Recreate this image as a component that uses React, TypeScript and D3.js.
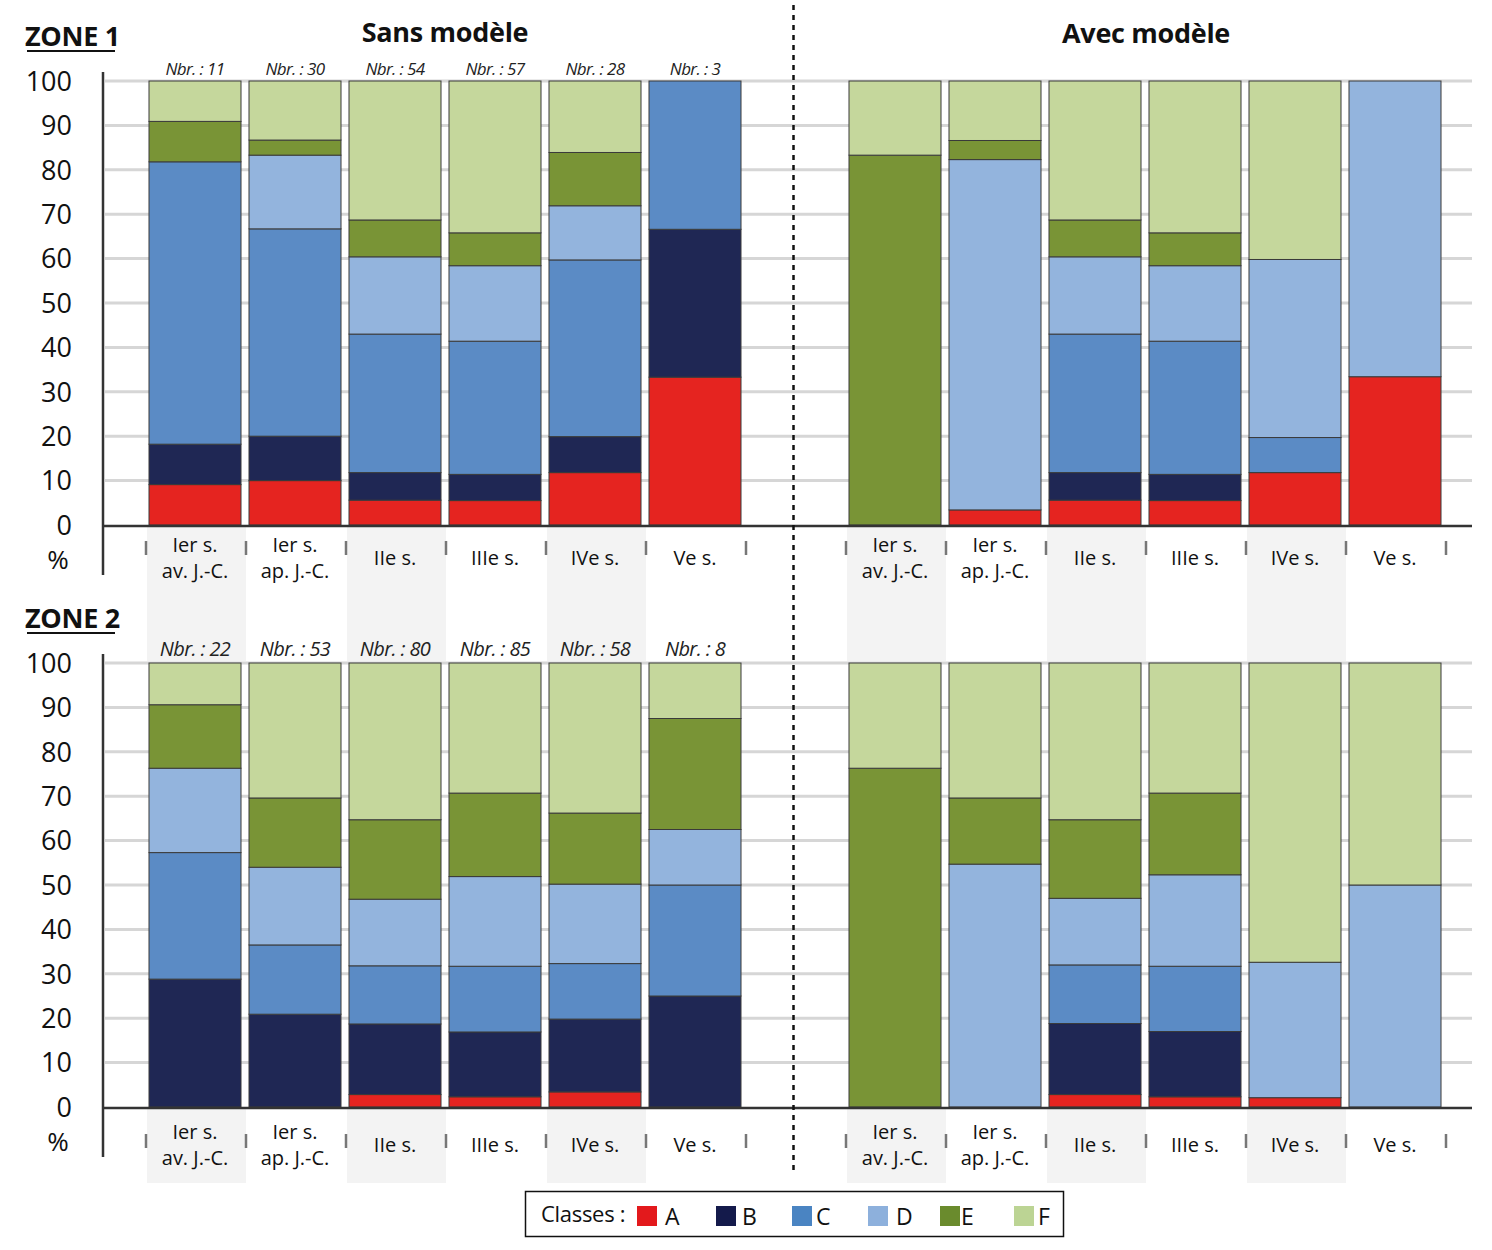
import React from "react";
import * as d3 from "d3";

const classes = ["A", "B", "C", "D", "E", "F"];
const classColors = ["#e52420", "#1f2754", "#5b8bc5", "#93b4dd", "#799436", "#c5d79c"];
const legendColors = ["#e3191c", "#141a4b", "#4a84c2", "#8db0dc", "#6a8b2d", "#bcd494"];

const periodLabels = [["Ier s.", "av. J.-C."], ["Ier s.", "ap. J.-C."], ["IIe s."], ["IIIe s."], ["IVe s."], ["Ve s."]];
const periods = ["Ier s. av. J.-C.", "Ier s. ap. J.-C.", "IIe s.", "IIIe s.", "IVe s.", "Ve s."];
const yTicks = [0, 10, 20, 30, 40, 50, 60, 70, 80, 90, 100];

const zone1Counts = [11, 30, 54, 57, 28, 3];
const zone2Counts = [22, 53, 80, 85, 58, 8];

// percentages per bar: [A, B, C, D, E, F]
const zone1Sans = [
  [9.1, 9.1, 63.6, 0, 9.1, 9.1],
  [10, 10, 46.7, 16.6, 3.4, 13.3],
  [5.6, 6.2, 31.2, 17.4, 8.3, 31.3],
  [5.5, 5.9, 30.0, 17.0, 7.4, 34.2],
  [11.8, 8.1, 39.8, 12.2, 12.0, 16.1],
  [33.3, 33.3, 33.4, 0, 0, 0],
];
const zone1Avec = [
  [0, 0, 0, 0, 83.3, 16.7],
  [3.4, 0, 0, 78.9, 4.3, 13.4],
  [5.6, 6.2, 31.2, 17.4, 8.3, 31.3],
  [5.5, 5.9, 30.0, 17.0, 7.4, 34.2],
  [11.8, 0, 7.9, 40.1, 0, 40.2],
  [33.4, 0, 0, 66.6, 0, 0],
];
const zone2Sans = [
  [0, 28.8, 28.5, 19.0, 14.3, 9.4],
  [0, 20.9, 15.6, 17.5, 15.6, 30.4],
  [2.8, 15.9, 13.1, 15.0, 17.9, 35.3],
  [2.3, 14.6, 14.8, 20.2, 18.8, 29.3],
  [3.4, 16.4, 12.5, 17.9, 16.0, 33.8],
  [0, 25, 25, 12.5, 25, 12.5],
];
const zone2Avec = [
  [0, 0, 0, 0, 76.3, 23.7],
  [0, 0, 0, 54.7, 14.9, 30.4],
  [2.8, 16.0, 13.2, 15.0, 17.7, 35.3],
  [2.3, 14.7, 14.7, 20.6, 18.4, 29.3],
  [2.1, 0, 0, 30.5, 0, 67.4],
  [0, 0, 0, 50, 0, 50],
];

const FONT = "'Open Sans', sans-serif";

function toRows(data: number[][]) {
  return data.map((r, i) => {
    const o: any = { period: periods[i] };
    classes.forEach((c, j) => (o[c] = r[j]));
    return o;
  });
}

const stackGen = d3.stack<any>().keys(classes);

function Panel({ data, x0, y }: { data: number[][]; x0: number; y: d3.ScaleLinear<number, number> }) {
  const x = d3.scaleBand<string>().domain(periods).range([x0, x0 + 600]).paddingInner(0.08).paddingOuter(0.04);
  const series = stackGen(toRows(data));
  return (
    <g>
      {series.map((s, si) =>
        s.map((d, i) => {
          const h = y(d[0]) - y(d[1]);
          if (h <= 0.01) return null;
          return (
            <rect
              key={`${si}-${i}`}
              x={x(periods[i])}
              y={y(d[1])}
              width={x.bandwidth()}
              height={h}
              fill={classColors[si]}
              stroke="#3a3a3a"
              strokeWidth={1}
            />
          );
        })
      )}
    </g>
  );
}

function Zone({ top, title, counts, sans, avec, nbrSize, nbrY, labelY, tickY }: any) {
  const y = d3.scaleLinear().domain([0, 100]).range([top + 444, top]);
  const xl = d3.scaleBand<string>().domain(periods).range([145, 745]).paddingInner(0.08).paddingOuter(0.04);
  const xr = d3.scaleBand<string>().domain(periods).range([845, 1445]).paddingInner(0.08).paddingOuter(0.04);
  const base = y(0);
  return (
    <g>
      {yTicks.filter((t) => t > 0).map((t) => (
        <line key={t} x1={105} x2={1472} y1={y(t)} y2={y(t)} stroke="#d6d6d6" strokeWidth={3} />
      ))}
      <Panel data={sans} x0={145} y={y} />
      <Panel data={avec} x0={845} y={y} />
      <line x1={103} x2={1472} y1={base + 1} y2={base + 1} stroke="#333" strokeWidth={2.5} />
      <line x1={103} x2={103} y1={top - 9} y2={top + 494} stroke="#333" strokeWidth={2.5} />
      {yTicks.map((t) => (
        <text key={t} x={72} y={y(t)} dy="0.36em" textAnchor="end" fontFamily={FONT} fontSize={27} fill="#111">
          {t}
        </text>
      ))}
      <text x={58} y={top + 479} dy="0.36em" textAnchor="middle" fontFamily={FONT} fontSize={26} fill="#111">%</text>
      <text x={25} y={top - 35} fontFamily={FONT} fontWeight={700} fontSize={27} fill="#111" letterSpacing={-0.3}>
        {title}
      </text>
      <line x1={27} x2={115} y1={top - 30} y2={top - 30} stroke="#111" strokeWidth={2} />
      {counts.map((c: number, i: number) => (
        <text
          key={i}
          x={(xl(periods[i]) as number) + xl.bandwidth() / 2}
          y={top + nbrY}
          textAnchor="middle"
          fontFamily={FONT}
          fontStyle="italic"
          fontSize={nbrSize}
          fill="#222"
          letterSpacing={-0.6}
        >
          {`Nbr. : ${c}`}
        </text>
      ))}
      {[xl, xr].map((xs, k) => (
        <g key={k}>
          {d3.range(7).map((j) => {
            const xx = (k === 0 ? 146 : 846) + j * 100;
            return <line key={j} x1={xx} x2={xx} y1={base + tickY} y2={base + tickY + 14} stroke="#777" strokeWidth={2.5} />;
          })}
          {periodLabels.map((lines, i) => {
            const cx = (xs(periods[i]) as number) + xs.bandwidth() / 2;
            return lines.length === 2 ? (
              <g key={i}>
                <text x={cx} y={base + labelY - 13} dy="0.36em" textAnchor="middle" fontFamily={FONT} fontSize={20} fill="#111">{lines[0]}</text>
                <text x={cx} y={base + labelY + 13} dy="0.36em" textAnchor="middle" fontFamily={FONT} fontSize={20} fill="#111">{lines[1]}</text>
              </g>
            ) : (
              <text key={i} x={cx} y={base + labelY} dy="0.36em" textAnchor="middle" fontFamily={FONT} fontSize={20} fill="#111">{lines[0]}</text>
            );
          })}
        </g>
      ))}
    </g>
  );
}

export default function App() {
  const shadeCols = [146, 346, 546, 846, 1046, 1246];
  const legendX = [637, 716, 792, 868, 940, 1014];
  const legendTextX = [665, 742, 816, 896, 961, 1038];
  return (
    <svg width={1492} height={1250} style={{ position: "absolute", left: 0, top: 0, background: "#fff" }}>
      <rect x={0} y={0} width={1492} height={1250} fill="#fff" />
      {shadeCols.map((sx) => (
        <g key={sx}>
          <rect x={sx + 1} y={527} width={99} height={134} fill="#f3f3f3" />
          <rect x={sx + 1} y={1109} width={99} height={74} fill="#f3f3f3" />
        </g>
      ))}
      <Zone top={81} title="ZONE 1" counts={zone1Counts} sans={zone1Sans} avec={zone1Avec} nbrSize={17} nbrY={-6} labelY={33} tickY={16} />
      <Zone top={663} title="ZONE 2" counts={zone2Counts} sans={zone2Sans} avec={zone2Avec} nbrSize={20} nbrY={-7} labelY={38} tickY={27} />
      <text x={445} y={42} textAnchor="middle" fontFamily={FONT} fontWeight={700} fontSize={27} fill="#111" letterSpacing={-0.3}>Sans modèle</text>
      <text x={1146} y={43} textAnchor="middle" fontFamily={FONT} fontWeight={700} fontSize={27} fill="#111" letterSpacing={-0.3}>Avec modèle</text>
      <line x1={793.5} x2={793.5} y1={5} y2={1170} stroke="#111" strokeWidth={2.5} strokeDasharray="5,5" />
      <rect x={525.5} y={1191.5} width={538} height={45} fill="#fff" stroke="#111" strokeWidth={1.5} />
      <text x={541} y={1222} fontFamily={FONT} fontSize={22} fill="#111" letterSpacing={-0.3}>Classes :</text>
      {classes.map((c, i) => (
        <g key={c}>
          <rect x={legendX[i]} y={1206} width={20} height={20} fill={legendColors[i]} />
          <text x={legendTextX[i]} y={1225} fontFamily={FONT} fontSize={23} fill="#111">{c}</text>
        </g>
      ))}
    </svg>
  );
}
